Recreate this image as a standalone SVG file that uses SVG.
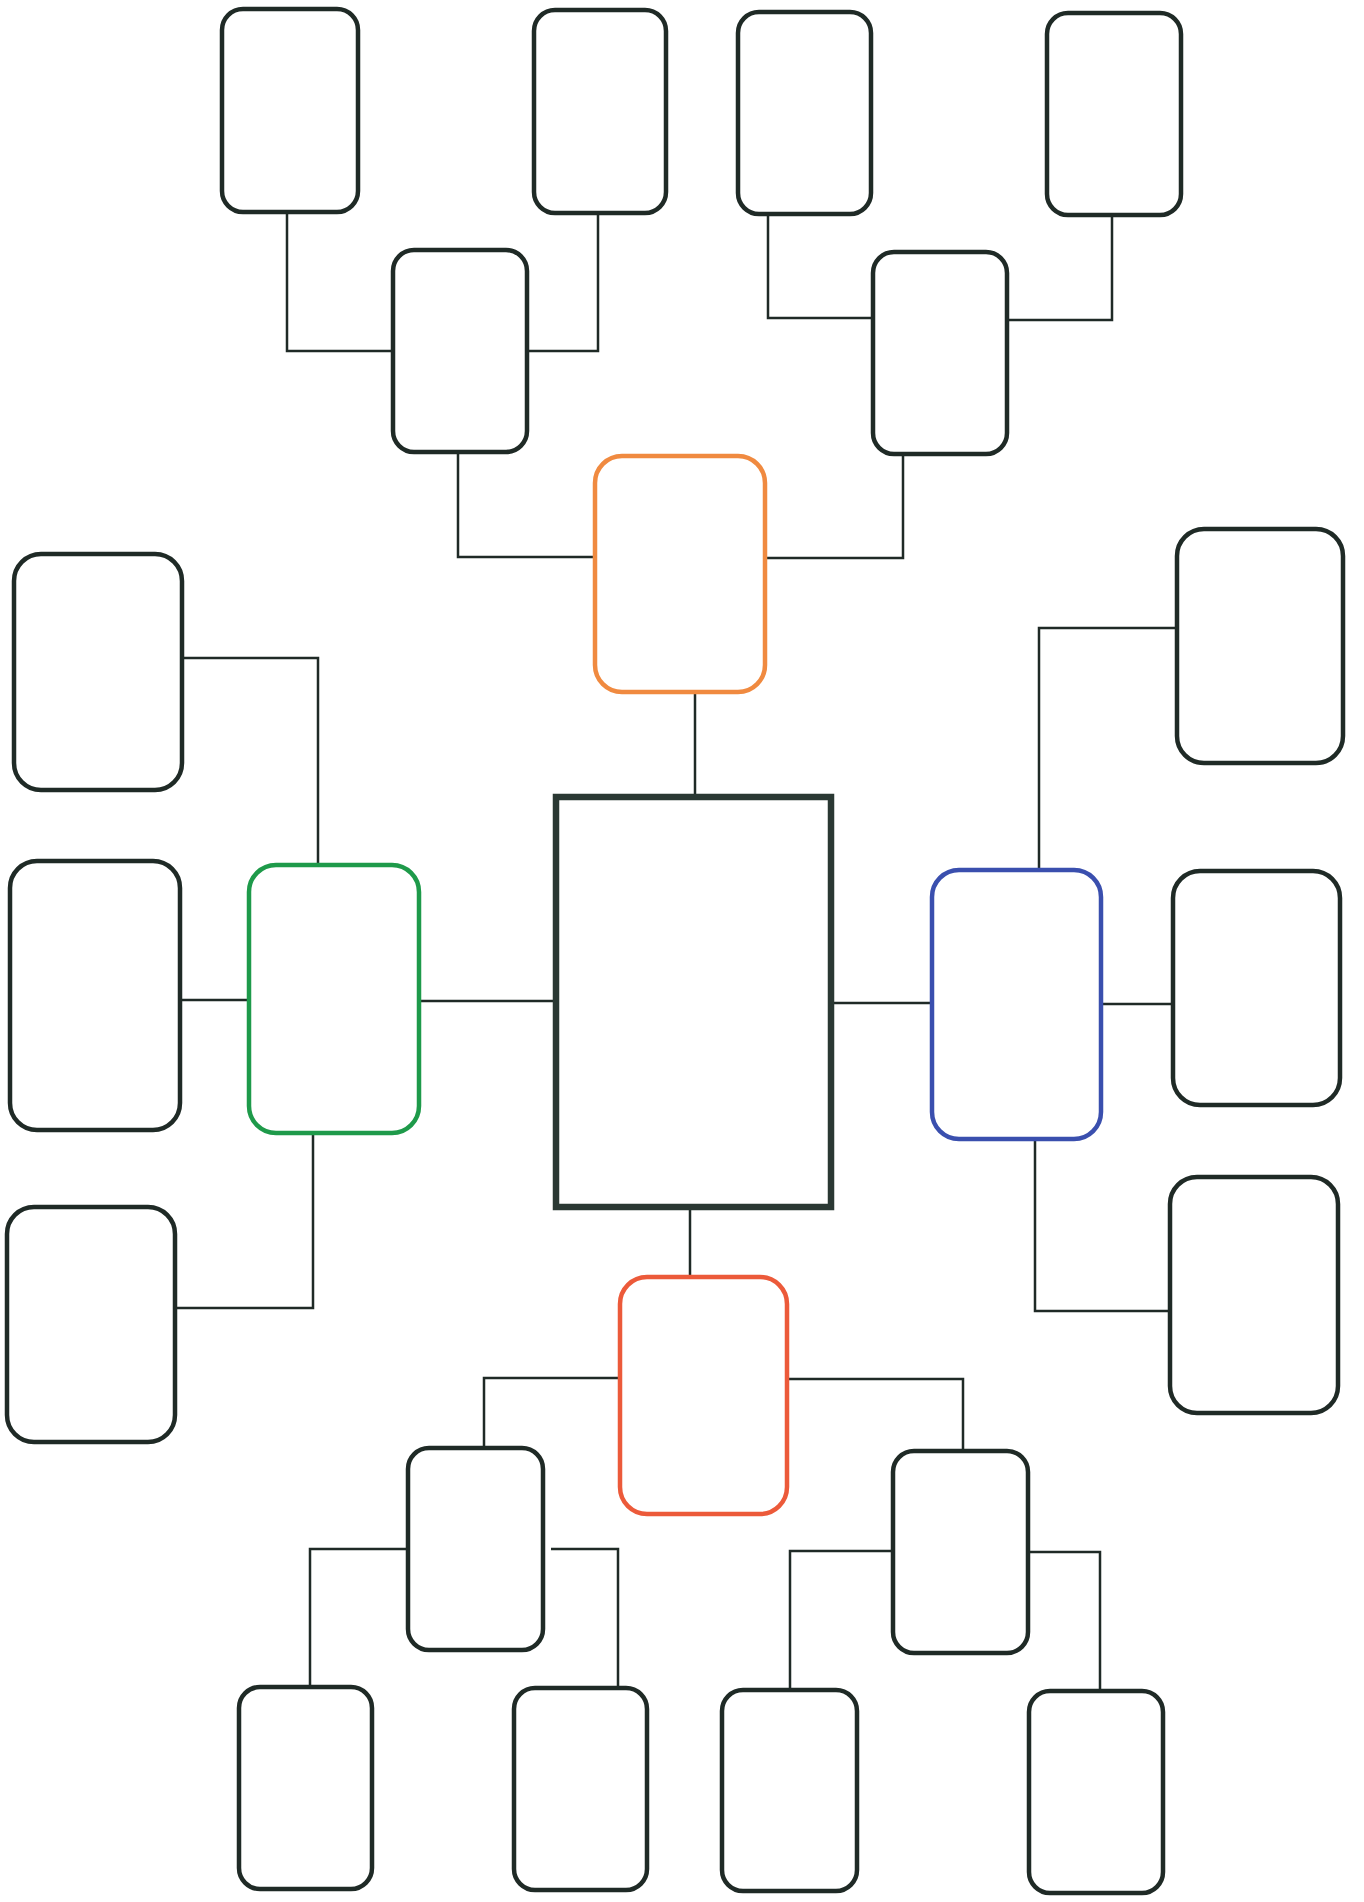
<svg xmlns="http://www.w3.org/2000/svg" width="1364" height="1902" viewBox="0 0 1364 1902">
<style>
.box{fill:#ffffff;stroke:#1f2a26;stroke-width:4.5}
.sm{rx:21px;ry:21px}
.lg{rx:27px;ry:27px}
.orange{fill:#ffffff;stroke:#f08a40;stroke-width:4.5}
.green{fill:#ffffff;stroke:#1e9a4a;stroke-width:4.5}
.blue{fill:#ffffff;stroke:#3a4fae;stroke-width:4.5}
.red{fill:#ffffff;stroke:#ec5a3a;stroke-width:4.5}
.center{fill:#ffffff;stroke:#2a3833;stroke-width:6.5}
.conn{fill:none;stroke:#1f2a26;stroke-width:2.5}
</style>
<rect width="1364" height="1902" fill="#ffffff"/>
<g id="connectors">
<polyline class="conn" points="287,213 287,351 393,351"/>
<polyline class="conn" points="598,214 598,351 527,351"/>
<polyline class="conn" points="768,215 768,318 873,318"/>
<polyline class="conn" points="1112,217 1112,320 1007,320"/>
<polyline class="conn" points="458,454 458,557 595,557"/>
<polyline class="conn" points="903,456 903,558 765,558"/>
<polyline class="conn" points="695,694 695,797"/>
<polyline class="conn" points="184,658 318,658 318,865"/>
<polyline class="conn" points="182,1000 249,1000"/>
<polyline class="conn" points="421,1001 556,1001"/>
<polyline class="conn" points="313,1135 313,1308 177,1308"/>
<polyline class="conn" points="831,1003 932,1003"/>
<polyline class="conn" points="1039,870 1039,628 1177,628"/>
<polyline class="conn" points="1103,1004 1173,1004"/>
<polyline class="conn" points="1035,1141 1035,1311 1170,1311"/>
<polyline class="conn" points="690,1207 690,1277"/>
<polyline class="conn" points="620,1378 484,1378 484,1448"/>
<polyline class="conn" points="787,1379 963,1379 963,1451"/>
<polyline class="conn" points="408,1549 310,1549 310,1687"/>
<polyline class="conn" points="551,1549 618,1549 618,1688"/>
<polyline class="conn" points="893,1551 790,1551 790,1690"/>
<polyline class="conn" points="1028,1552 1100,1552 1100,1691"/>
</g>
<g id="node-a"><rect class="box sm" x="222" y="9" width="136" height="203"/></g>
<g id="node-b"><rect class="box sm" x="534" y="10" width="132" height="203"/></g>
<g id="node-c"><rect class="box sm" x="738" y="12" width="133" height="202"/></g>
<g id="node-d"><rect class="box sm" x="1047" y="13" width="134" height="202"/></g>
<g id="node-e"><rect class="box sm" x="393" y="250" width="134" height="202"/></g>
<g id="node-f"><rect class="box sm" x="873" y="252" width="134" height="202"/></g>
<g id="node-orange"><rect class="orange lg" x="595" y="456" width="170" height="236"/></g>
<g id="node-l1"><rect class="box lg" x="14" y="554" width="168" height="236"/></g>
<g id="node-l2"><rect class="box lg" x="10" y="861" width="170" height="269"/></g>
<g id="node-l3"><rect class="box lg" x="7" y="1207" width="168" height="235"/></g>
<g id="node-green"><rect class="green lg" x="249" y="865" width="170" height="268"/></g>
<g id="node-center"><rect class="center" x="556" y="797" width="275" height="410"/></g>
<g id="node-blue"><rect class="blue lg" x="932" y="870" width="169" height="269"/></g>
<g id="node-r1"><rect class="box lg" x="1177" y="529" width="166" height="234"/></g>
<g id="node-r2"><rect class="box lg" x="1173" y="871" width="167" height="234"/></g>
<g id="node-r3"><rect class="box lg" x="1170" y="1177" width="168" height="236"/></g>
<g id="node-red"><rect class="red lg" x="620" y="1277" width="167" height="237"/></g>
<g id="node-g"><rect class="box sm" x="408" y="1448" width="135" height="202"/></g>
<g id="node-h"><rect class="box sm" x="893" y="1451" width="135" height="202"/></g>
<g id="node-i"><rect class="box sm" x="239" y="1687" width="133" height="202"/></g>
<g id="node-j"><rect class="box sm" x="514" y="1688" width="133" height="202"/></g>
<g id="node-k"><rect class="box sm" x="722" y="1690" width="135" height="201"/></g>
<g id="node-m"><rect class="box sm" x="1029" y="1691" width="134" height="202"/></g>
</svg>
